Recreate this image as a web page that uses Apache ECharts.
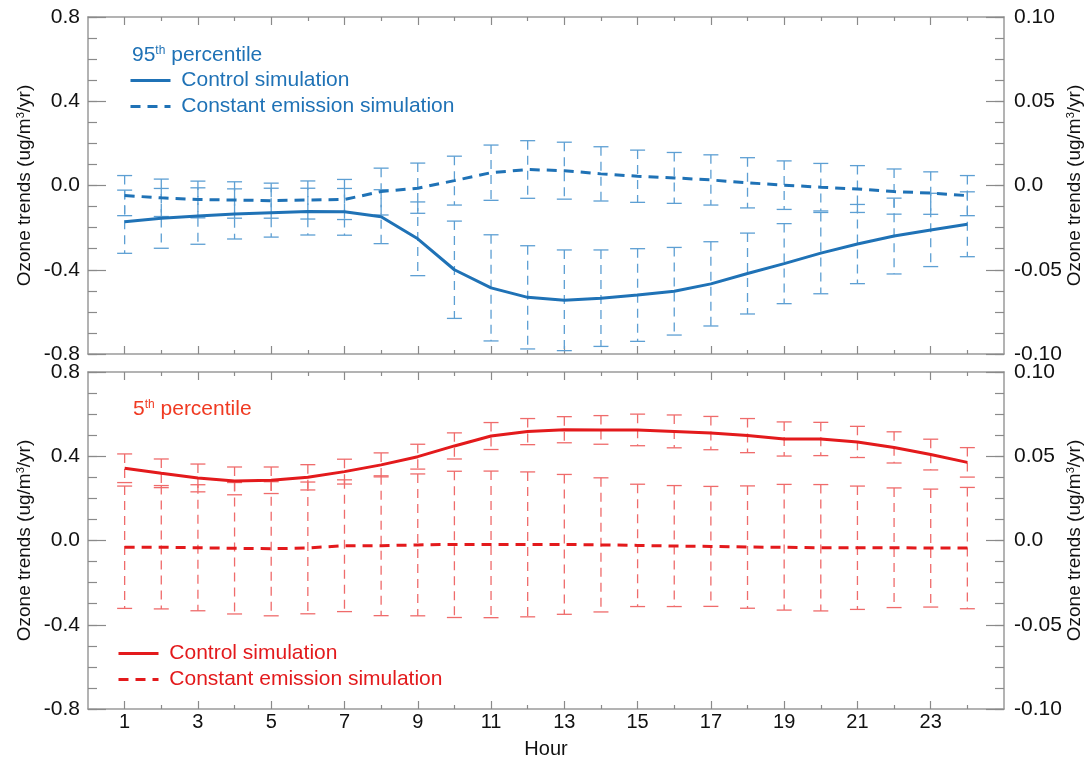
<!DOCTYPE html>
<html>
<head>
<meta charset="utf-8">
<title>Ozone trends by hour</title>
<script src="https://cdn.jsdelivr.net/npm/echarts@6/dist/echarts.min.js"></script>
<style>
  html, body { margin: 0; padding: 0; background: #fff; }
  #chart { width: 1088px; height: 761px; }
</style>
</head>
<body>
<div id="chart"></div>
<script>
// Hour of day on the x axis
const hours = [1, 2, 3, 4, 5, 6, 7, 8, 9, 10, 11, 12, 13, 14, 15, 16, 17, 18, 19, 20, 21, 22, 23, 24];
const hourLabels = [1, 3, 5, 7, 9, 11, 13, 15, 17, 19, 21, 23];
const hourMinor = [2, 4, 6, 8, 10, 12, 14, 16, 18, 20, 22, 24];

// 95th percentile: control simulation (left axis) and its error half-widths
const ctrl95 = [-0.172, -0.156, -0.145, -0.135, -0.129, -0.124, -0.125, -0.148, -0.253, -0.400, -0.486, -0.531,
                -0.545, -0.535, -0.520, -0.502, -0.467, -0.418, -0.371, -0.321, -0.278, -0.240, -0.211, -0.184];
const ctrl95Err = [0.150, 0.142, 0.134, 0.119, 0.116, 0.111, 0.111, 0.128, 0.175, 0.231, 0.252, 0.245,
                   0.239, 0.229, 0.220, 0.208, 0.200, 0.192, 0.190, 0.193, 0.188, 0.180, 0.174, 0.154];
// 95th percentile: constant emission simulation (right axis)
const const95 = [-0.0060, -0.0073, -0.0083, -0.0086, -0.0090, -0.0086, -0.0083, -0.0036, -0.0016, 0.0029, 0.0076, 0.0095,
                 0.0088, 0.0069, 0.0055, 0.0045, 0.0033, 0.0016, 0.0002, -0.0010, -0.0021, -0.0036, -0.0045, -0.0060];
const const95Err = [0.0119, 0.0111, 0.0109, 0.0108, 0.0104, 0.0113, 0.0119, 0.0139, 0.0149, 0.0145, 0.0164, 0.0171,
                    0.0169, 0.0161, 0.0155, 0.0151, 0.0149, 0.0149, 0.0144, 0.0141, 0.0139, 0.0134, 0.0126, 0.0119];

// 5th percentile: control simulation (left axis)
const ctrl5 = [0.343, 0.319, 0.297, 0.283, 0.286, 0.300, 0.327, 0.359, 0.398, 0.449, 0.496, 0.517,
               0.526, 0.525, 0.525, 0.518, 0.510, 0.498, 0.482, 0.482, 0.468, 0.442, 0.408, 0.371];
const ctrl5Err = [0.068, 0.068, 0.066, 0.066, 0.063, 0.060, 0.059, 0.057, 0.059, 0.062, 0.064, 0.062,
                  0.062, 0.068, 0.075, 0.078, 0.079, 0.081, 0.081, 0.079, 0.074, 0.074, 0.073, 0.070];
// 5th percentile: constant emission simulation (right axis)
const const5 = [-0.0040, -0.0040, -0.0043, -0.0046, -0.0049, -0.0044, -0.0031, -0.0031, -0.0026, -0.0023, -0.0023, -0.0023,
                -0.0023, -0.0026, -0.0029, -0.0033, -0.0035, -0.0039, -0.0040, -0.0043, -0.0043, -0.0043, -0.0045, -0.0045];
const const5Err = [0.0363, 0.0366, 0.0374, 0.0390, 0.0398, 0.0391, 0.0391, 0.0415, 0.0421, 0.0434, 0.0435, 0.0430,
                   0.0415, 0.0398, 0.0363, 0.0359, 0.0356, 0.0363, 0.0373, 0.0375, 0.0366, 0.0355, 0.0350, 0.0360];

const FONT = 'Liberation Sans, Arial, sans-serif';
const BLUE = '#1f72b6';
const BLUE_ERR = '#5d9fd3';
const RED = '#e31a1c';
const RED_ERR = '#ef6b6b';
const RED_TITLE = '#f03a22';
const FRAME = '#9a9a9a';
const TICK = '#8a8a8a';

const legendNames = {
  ctl95: 'Control simulation', ce95: 'Constant emission simulation',
  ctl5: 'Control simulation', ce5: 'Constant emission simulation'
};

function toLine(values) { return hours.map((h, i) => [h, values[i]]); }
function toBars(values, errs) { return hours.map((h, i) => [h, values[i] - errs[i], values[i] + errs[i]]); }

// Vertical dashed error bar with solid caps
function errorBar(color) {
  return function (params, api) {
    const x = api.value(0);
    const lo = api.coord([x, api.value(1)]);
    const hi = api.coord([x, api.value(2)]);
    const hw = 7.5;
    const st = { stroke: color, lineWidth: 1.3 };
    return {
      type: 'group',
      children: [
        { type: 'line', shape: { x1: hi[0], y1: hi[1], x2: lo[0], y2: lo[1] }, style: Object.assign({ lineDash: [9, 6] }, st) },
        { type: 'line', shape: { x1: hi[0] - hw, y1: hi[1], x2: hi[0] + hw, y2: hi[1] }, style: st },
        { type: 'line', shape: { x1: lo[0] - hw, y1: lo[1], x2: lo[0] + hw, y2: lo[1] }, style: st }
      ]
    };
  };
}

// Four x axes per panel: labelled odd-hour ticks and short even-hour ticks, bottom and top
function xAxesFor(grid, labelled) {
  const base = {
    type: 'value', gridIndex: grid, min: 0, max: 25,
    splitLine: { show: false },
    axisLine: { show: true, onZero: false, lineStyle: { color: FRAME, width: 1.5 } }
  };
  const list = [];
  ['bottom', 'top'].forEach(pos => {
    list.push(Object.assign({}, base, {
      position: pos,
      axisTick: { show: true, inside: true, length: 8, customValues: hourLabels, lineStyle: { color: TICK, width: 1.2 } },
      axisLabel: (labelled && pos === 'bottom')
        ? { show: true, customValues: hourLabels, fontSize: 20, fontFamily: FONT, color: '#111', margin: 3 }
        : { show: false },
      name: (labelled && pos === 'bottom') ? 'Hour' : '',
      nameLocation: 'middle', nameGap: 30, nameMoveOverlap: false,
      nameTextStyle: { fontSize: 20, fontFamily: FONT, color: '#111' }
    }));
    list.push(Object.assign({}, base, {
      position: pos,
      axisLine: { show: false, onZero: false },
      axisTick: { show: true, inside: true, length: 4, customValues: hourMinor, lineStyle: { color: TICK, width: 1.2 } },
      axisLabel: { show: false }
    }));
  });
  return list;
}

const axisName = 'Ozone trends (ug/m{s|3}/yr)';
const nameStyle = {
  fontSize: 19, fontFamily: FONT, color: '#111',
  rich: { s: { fontSize: 11, verticalAlign: 'top', fontFamily: FONT, color: '#111' } }
};

// Left and right value axes of one panel, plus unlabelled axes carrying the short minor ticks
function yAxesFor(grid) {
  const common = {
    type: 'value', gridIndex: grid,
    splitLine: { show: false },
    axisLine: { show: true, onZero: false, lineStyle: { color: FRAME, width: 1.5 } },
    axisTick: { show: true, inside: true, length: 18, lineStyle: { color: TICK, width: 1.2 } },
    name: axisName, nameLocation: 'middle', nameRotate: 90, nameMoveOverlap: false, nameTextStyle: nameStyle
  };
  const minor = {
    type: 'value', gridIndex: grid,
    splitLine: { show: false }, axisLine: { show: false, onZero: false }, axisLabel: { show: false },
    axisTick: { show: true, inside: true, length: 9, lineStyle: { color: TICK, width: 1.2 } }
  };
  return [
    Object.assign({}, common, {
      position: 'left', min: -0.8, max: 0.8, interval: 0.4, nameGap: 54,
      axisLabel: { fontSize: 21, fontFamily: FONT, color: '#111', margin: 8, formatter: v => v.toFixed(1) }
    }),
    Object.assign({}, common, {
      position: 'right', min: -0.1, max: 0.1, interval: 0.05, nameGap: 61,
      axisLabel: { fontSize: 21, fontFamily: FONT, color: '#111', margin: 10,
                   formatter: v => (Math.abs(v) < 1e-9 ? '0.0' : v.toFixed(2)) }
    }),
    Object.assign({}, minor, { position: 'left', min: -0.8, max: 0.8, interval: 0.1 }),
    Object.assign({}, minor, { position: 'right', min: -0.1, max: 0.1, interval: 0.0125 })
  ];
}

const titleRich = (color) => ({
  fontSize: 21, fontWeight: 'normal', fontFamily: FONT, color: color,
  rich: { s: { fontSize: 12, verticalAlign: 'top', fontFamily: FONT, color: color } }
});

const legendBase = {
  orient: 'vertical', itemWidth: 40, itemHeight: 14, itemGap: 5, padding: 0,
  selectedMode: false,
  lineStyle: { width: 3 },
  itemStyle: { opacity: 0 },
  formatter: name => ' ' + legendNames[name]
};

const option = {
  animation: false,
  backgroundColor: '#ffffff',
  title: [
    { text: '95{s|th} percentile', left: 132, top: 45, padding: 0, textStyle: titleRich(BLUE) },
    { text: '5{s|th} percentile', left: 133, top: 399, padding: 0, textStyle: titleRich(RED_TITLE) }
  ],
  legend: [
    Object.assign({}, legendBase, {
      left: 129, top: 70, data: ['ctl95', 'ce95'],
      textStyle: { fontSize: 21, fontFamily: FONT, color: BLUE }
    }),
    Object.assign({}, legendBase, {
      left: 117, top: 643, data: ['ctl5', 'ce5'],
      textStyle: { fontSize: 21, fontFamily: FONT, color: RED }
    })
  ],
  grid: [
    { left: 88, top: 17, width: 916, height: 337, containLabel: false, outerBoundsMode: 'none' },
    { left: 88, top: 372, width: 916, height: 337, containLabel: false, outerBoundsMode: 'none' }
  ],
  xAxis: xAxesFor(0, false).concat(xAxesFor(1, true)),
  yAxis: yAxesFor(0).concat(yAxesFor(1)),
  series: [
    { type: 'custom', name: 'ctl95 bars', xAxisIndex: 0, yAxisIndex: 0, z: 2,
      renderItem: errorBar(BLUE_ERR), encode: { x: 0, y: [1, 2] }, data: toBars(ctrl95, ctrl95Err) },
    { type: 'custom', name: 'ce95 bars', xAxisIndex: 0, yAxisIndex: 1, z: 2,
      renderItem: errorBar(BLUE_ERR), encode: { x: 0, y: [1, 2] }, data: toBars(const95, const95Err) },
    { type: 'line', name: 'ctl95', xAxisIndex: 0, yAxisIndex: 0, z: 3, symbol: 'none',
      lineStyle: { color: BLUE, width: 3 }, itemStyle: { color: BLUE }, data: toLine(ctrl95) },
    { type: 'line', name: 'ce95', xAxisIndex: 0, yAxisIndex: 1, z: 3, symbol: 'none',
      lineStyle: { color: BLUE, width: 3, type: [10, 7] }, itemStyle: { color: BLUE }, data: toLine(const95) },

    { type: 'custom', name: 'ctl5 bars', xAxisIndex: 4, yAxisIndex: 4, z: 2,
      renderItem: errorBar(RED_ERR), encode: { x: 0, y: [1, 2] }, data: toBars(ctrl5, ctrl5Err) },
    { type: 'custom', name: 'ce5 bars', xAxisIndex: 4, yAxisIndex: 5, z: 2,
      renderItem: errorBar(RED_ERR), encode: { x: 0, y: [1, 2] }, data: toBars(const5, const5Err) },
    { type: 'line', name: 'ctl5', xAxisIndex: 4, yAxisIndex: 4, z: 3, symbol: 'none',
      lineStyle: { color: RED, width: 3 }, itemStyle: { color: RED }, data: toLine(ctrl5) },
    { type: 'line', name: 'ce5', xAxisIndex: 4, yAxisIndex: 5, z: 3, symbol: 'none',
      lineStyle: { color: RED, width: 3, type: [10, 7] }, itemStyle: { color: RED }, data: toLine(const5) }
  ]
};

const chart = echarts.init(document.getElementById('chart'), null, { renderer: 'canvas' });
chart.setOption(option);
</script>
</body>
</html>
